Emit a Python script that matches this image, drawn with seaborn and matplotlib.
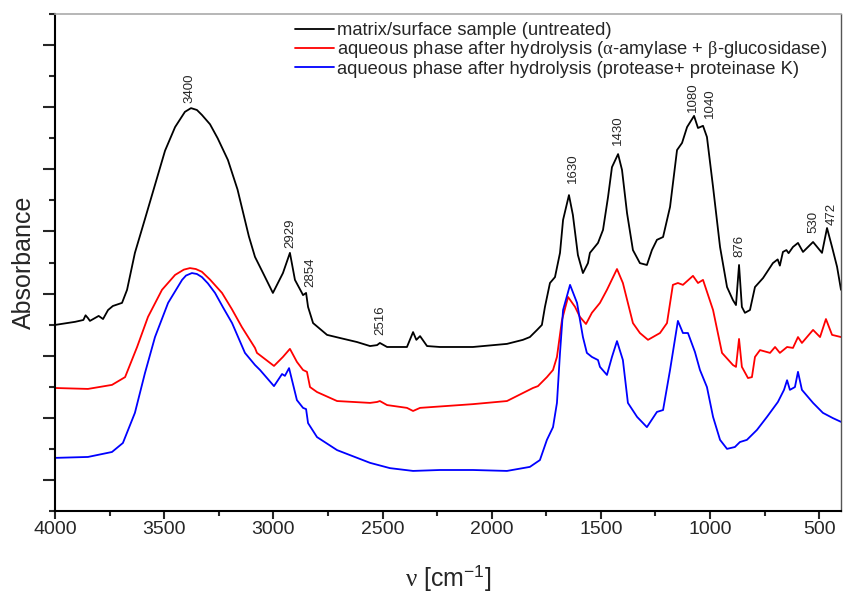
import numpy as np
import pandas as pd
import matplotlib
matplotlib.use("Agg")
import matplotlib.pyplot as plt
import seaborn as sns

# Espectros FTIR (numero de onda en cm-1, absorbancia en u.a.)
wn_black = [4000, 3908, 3870, 3860, 3849, 3840, 3800, 3780, 3757, 3735, 3693, 3670, 3634, 3588,
            3542, 3496, 3450, 3405, 3377, 3350, 3327, 3290, 3255, 3208, 3164, 3112, 3084, 3047,
            3002, 2956, 2924, 2901, 2869, 2864, 2850, 2841, 2818, 2754, 2695, 2617, 2557, 2525,
            2512, 2479, 2388, 2360, 2345, 2328, 2296, 2237, 2086, 1930, 1857, 1825, 1792, 1770,
            1756, 1733, 1710, 1687, 1673, 1646, 1628, 1605, 1582, 1559, 1550, 1513, 1490, 1467,
            1449, 1421, 1403, 1380, 1353, 1321, 1289, 1266, 1243, 1215, 1183, 1151, 1128, 1105,
            1073, 1055, 1032, 1014, 986, 954, 922, 895, 881, 867, 854, 840, 817, 794, 757, 712,
            690, 680, 666, 650, 640, 620, 597, 574, 528, 487, 464, 441, 418, 400]
ab_black = [0.599, 0.609, 0.615, 0.630, 0.621, 0.612, 0.628, 0.618, 0.647, 0.660, 0.670, 0.712,
            0.831, 0.940, 1.050, 1.160, 1.236, 1.285, 1.297, 1.291, 1.275, 1.245, 1.200, 1.130,
            1.035, 0.884, 0.818, 0.766, 0.702, 0.766, 0.831, 0.744, 0.702, 0.695, 0.702, 0.657,
            0.605, 0.567, 0.557, 0.544, 0.531, 0.534, 0.541, 0.528, 0.528, 0.576, 0.551, 0.563,
            0.531, 0.528, 0.528, 0.538, 0.551, 0.560, 0.583, 0.599, 0.657, 0.734, 0.753, 0.831,
            0.937, 1.017, 0.953, 0.824, 0.766, 0.798, 0.831, 0.863, 0.905, 1.011, 1.107, 1.149,
            1.098, 0.959, 0.840, 0.798, 0.792, 0.840, 0.873, 0.882, 0.979, 1.162, 1.185, 1.236,
            1.272, 1.233, 1.240, 1.204, 1.043, 0.850, 0.721, 0.679, 0.663, 0.792, 0.657, 0.638,
            0.647, 0.721, 0.750, 0.798, 0.810, 0.790, 0.834, 0.840, 0.830, 0.850, 0.863, 0.834,
            0.866, 0.831, 0.911, 0.850, 0.786, 0.712]

wn_red = [4000, 3849, 3739, 3679, 3624, 3574, 3510, 3450, 3410, 3382, 3355, 3327, 3290, 3235,
          3190, 3144, 3084, 3075, 2997, 2956, 2924, 2892, 2864, 2846, 2832, 2800, 2708, 2557,
          2525, 2512, 2479, 2388, 2360, 2328, 2086, 1930, 1811, 1788, 1747, 1719, 1701, 1678,
          1650, 1618, 1596, 1568, 1541, 1504, 1472, 1426, 1399, 1353, 1321, 1284, 1229, 1197,
          1170, 1147, 1124, 1078, 1055, 1032, 986, 945, 895, 881, 867, 854, 826, 808, 794, 771,
          725, 702, 680, 647, 620, 597, 579, 528, 496, 469, 441, 400]
ab_red = [0.396, 0.393, 0.406, 0.431, 0.528, 0.625, 0.712, 0.760, 0.777, 0.782, 0.779, 0.770,
          0.745, 0.702, 0.650, 0.592, 0.525, 0.509, 0.467, 0.496, 0.522, 0.480, 0.454, 0.448,
          0.399, 0.383, 0.354, 0.348, 0.351, 0.354, 0.341, 0.332, 0.322, 0.332, 0.344, 0.354,
          0.396, 0.402, 0.431, 0.454, 0.496, 0.615, 0.689, 0.657, 0.625, 0.602, 0.638, 0.670,
          0.712, 0.779, 0.734, 0.605, 0.573, 0.551, 0.573, 0.605, 0.728, 0.734, 0.728, 0.757,
          0.734, 0.744, 0.647, 0.509, 0.470, 0.464, 0.554, 0.464, 0.428, 0.431, 0.496, 0.518,
          0.509, 0.528, 0.509, 0.528, 0.525, 0.560, 0.541, 0.583, 0.560, 0.618, 0.567, 0.560]

wn_blue = [4000, 3849, 3739, 3689, 3634, 3588, 3542, 3482, 3418, 3400, 3373, 3350, 3327, 3300,
           3267, 3230, 3189, 3130, 3084, 3061, 2997, 2960, 2947, 2928, 2892, 2864, 2850, 2841,
           2800, 2708, 2557, 2466, 2360, 2237, 2086, 1930, 1825, 1779, 1747, 1719, 1701, 1687,
           1673, 1641, 1609, 1582, 1564, 1541, 1513, 1504, 1472, 1449, 1426, 1399, 1376, 1334,
           1289, 1243, 1215, 1183, 1147, 1124, 1101, 1069, 1046, 1014, 986, 954, 922, 886, 863,
           831, 785, 739, 689, 661, 647, 634, 611, 597, 579, 528, 483, 437, 400]
ab_blue = [0.171, 0.174, 0.190, 0.219, 0.316, 0.444, 0.560, 0.670, 0.744, 0.758, 0.766, 0.763,
           0.753, 0.733, 0.702, 0.655, 0.605, 0.509, 0.470, 0.454, 0.402, 0.441, 0.435, 0.460,
           0.357, 0.332, 0.328, 0.283, 0.238, 0.196, 0.155, 0.138, 0.129, 0.132, 0.132, 0.129,
           0.142, 0.164, 0.229, 0.270, 0.348, 0.509, 0.647, 0.728, 0.670, 0.560, 0.509, 0.496,
           0.486, 0.464, 0.438, 0.496, 0.547, 0.486, 0.348, 0.303, 0.270, 0.319, 0.325, 0.454,
           0.612, 0.573, 0.573, 0.512, 0.454, 0.399, 0.303, 0.229, 0.200, 0.206, 0.222, 0.229,
           0.261, 0.303, 0.351, 0.390, 0.421, 0.390, 0.399, 0.448, 0.390, 0.348, 0.316, 0.299,
           0.287]

etiquetas = ["matrix/surface sample (untreated)",
             r"aqueous phase after hydrolysis ($\mathrm{\alpha}$-amylase + $\mathrm{\beta}$-glucosidase)",
             r"aqueous phase after hydrolysis (protease+ proteinase K)"]
colores = ["black", "#ff0000", "#0000ff"]

# picos marcados: texto, posicion (cm-1), altura base del texto
picos = ["3400", "2929", "2854", "2516", "1630", "1430", "1080", "1040", "876", "530", "472"]
picos_x = [3382, 2924, 2832, 2512, 1628, 1421, 1078, 1000, 867, 528, 441]
picos_y = [1.314, 0.847, 0.721, 0.567, 1.056, 1.178, 1.285, 1.265, 0.818, 0.895, 0.921]

sns.set_style("ticks")
plt.rcParams['font.family'] = ['Liberation Sans', 'DejaVu Sans']
plt.rcParams['mathtext.fontset'] = 'custom'
plt.rcParams['mathtext.rm'] = 'Liberation Serif'
plt.rcParams['mathtext.it'] = 'Liberation Serif:italic'
plt.rcParams['mathtext.sf'] = 'Liberation Sans'

fig = plt.figure(figsize=(8.43, 5.92), dpi=100)
ax = fig.add_axes([55/843, 1 - 511/592, 786/843, 497/592])

series = [(wn_black, ab_black), (wn_red, ab_red), (wn_blue, ab_blue)]
for (x, y), lab, col in zip(series, etiquetas, colores):
    df = pd.DataFrame({"wn": x, "A": y})
    sns.lineplot(data=df, x="wn", y="A", ax=ax, color=col, lw=1.3, label=lab,
                 estimator=None, sort=False)

for t, px, py in zip(picos, picos_x, picos_y):
    ax.text(px, py, t, rotation=90, ha="center", va="bottom", fontsize=9.5)

ax.set_xlim(4000, 400)
ax.set_ylim(0, 1.6)
ax.set_xticks(np.arange(4000, 400, -500))
ax.set_xticks(np.arange(3750, 400, -500), minor=True)
ax.set_yticks(np.arange(0.1, 1.6, 0.2))
ax.set_yticks(np.arange(0, 1.61, 0.2), minor=True)
ax.set_yticklabels([])
ax.tick_params(axis="y", which="major", length=8.5, width=1.5, direction="out")
ax.tick_params(axis="y", which="minor", length=4.3, width=1.5, direction="out")
ax.tick_params(axis="x", which="major", length=6, width=1.5, direction="out", labelsize=14, pad=1)
ax.tick_params(axis="x", which="minor", length=3.5, width=1.5, direction="out")

for s in ["left", "bottom"]:
    ax.spines[s].set_linewidth(1.5)
    ax.spines[s].set_color("black")
ax.spines["top"].set_color("#aaaaaa")
ax.spines["top"].set_linewidth(1.2)
ax.spines["right"].set_color("#555555")
ax.spines["right"].set_linewidth(1.0)

ax.set_xlabel(r"$\mathrm{\nu}$ [cm$^{\mathsf{-1}}$]", fontsize=18, labelpad=18)
ax.set_ylabel("Absorbance", fontsize=18, labelpad=2)

ax.legend(loc="upper left", bbox_to_anchor=(295/843, 1 - 22/592), bbox_transform=fig.transFigure,
          frameon=False, fontsize=13.2, handlelength=2.1, handletextpad=0.2,
          labelspacing=0.02, borderpad=0, borderaxespad=0)

fig.savefig("out.png", dpi=100)
